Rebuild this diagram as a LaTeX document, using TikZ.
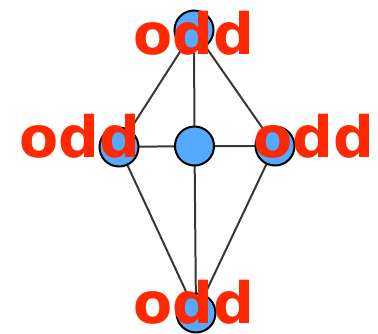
\documentclass[tikz,border=0pt]{standalone}
\usepackage{fontspec}
\newfontfamily\lblfont{DejaVu Sans}[BoldFont={DejaVu Sans Bold}]
\definecolor{nodeblue}{RGB}{85,170,255}
\definecolor{lblred}{RGB}{255,40,0}
\definecolor{edgegray}{RGB}{55,55,55}
\begin{document}
\begin{tikzpicture}[x=1pt,y=-1pt,
  vert/.style={circle,draw=black,line width=2pt,fill=nodeblue,minimum size=39pt,inner sep=0pt},
  edge/.style={draw=edgegray,line width=2pt},
  lbl/.style={anchor=base,inner sep=0pt,text=lblred,font=\lblfont\bfseries\fontsize{57}{57}\selectfont}]
\clip (0,0) rectangle (378,333);
\useasboundingbox (0,0) rectangle (378,333);
\coordinate (t) at (194,30);
\coordinate (l) at (119,147);
\coordinate (c) at (194.5,146);
\coordinate (r) at (275,146);
\coordinate (b) at (196,313);
\path[edge] (t) -- (l) (t) -- (r) (t) -- (c) (c) -- (b) (l) -- (c) (c) -- (r) (l) -- (b) (r) -- (b);
\node[vert] (tn) at (t) {};
\node[vert] (ln) at (l) {};
\node[vert] (cn) at (c) {};
\node[vert] (rn) at (r) {};
\node[vert] (bn) at (b) {};
\node[lbl] (tl) at (193.5,54) {odd};
\node[lbl] (ll) at (80,157) {odd};
\node[lbl] (rl) at (314,157) {odd};
\node[lbl] (bl) at (193.5,323) {odd};
\end{tikzpicture}
\end{document}
